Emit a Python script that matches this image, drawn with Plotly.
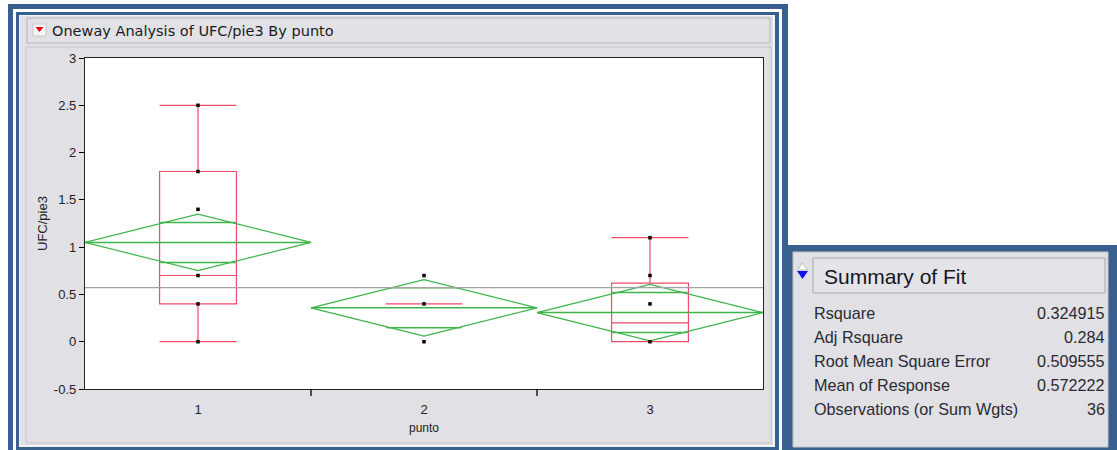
import math
import plotly.graph_objects as go

# ---------------- data ----------------
groups = [1, 2, 3]
group_labels = ["1", "2", "3"]
group_means = [1.05, 0.358, 0.308]
ci_half_width = [0.299, 0.299, 0.299]
grand_mean = 0.572222

box_min = [0.0, 0.4, 0.0]
box_q1 = [0.4, 0.4, 0.0]
box_median = [0.7, 0.4, 0.2]
box_q3 = [1.8, 0.4, 0.62]
box_max = [2.5, 0.4, 1.1]

points_g1 = [2.5, 1.8, 1.4, 0.7, 0.4, 0.0]
points_g2 = [0.7, 0.4, 0.0]
points_g3 = [1.1, 0.7, 0.4, 0.0]

y_ticks = [-0.5, 0, 0.5, 1, 1.5, 2, 2.5, 3]
y_tick_text = ["-0.5", "0", "0.5", "1", "1.5", "2", "2.5", "3"]

fit_labels = ["Rsquare", "Adj Rsquare", "Root Mean Square Error",
              "Mean of Response", "Observations (or Sum Wgts)"]
fit_values = ["0.324915", "0.284", "0.509555", "0.572222", "36"]

title_text = "Oneway Analysis of UFC/pie3 By punto"
summary_title = "Summary of Fit"
y_title = "UFC/pie3"
x_title = "punto"

# ---------------- layout helpers ----------------
W, H = 1117, 450


def px(x):
    return x / W


def py(y):
    return 1 - y / H


BLUE = "#38608F"
GRAY = "#E0E0E5"
GREEN = "#3DB54A"
RED = "#EE4B6A"

PL, PR, PT, PB = 85, 763, 58, 389

fig = go.Figure()

# mean diamonds with overlap marks
for g, m, h in zip(groups, group_means, ci_half_width):
    fig.add_trace(go.Scatter(
        x=[g - 0.5, g, g + 0.5, g, g - 0.5],
        y=[m, m + h, m, m - h, m],
        mode="lines", line=dict(color=GREEN, width=1.2),
        hoverinfo="skip", showlegend=False))
    fig.add_trace(go.Scatter(
        x=[g - 0.5, g + 0.5], y=[m, m], mode="lines",
        line=dict(color=GREEN, width=1.5), hoverinfo="skip", showlegend=False))
    d = h / math.sqrt(2)
    half = 0.5 * (1 - d / h) + 0.02
    for yy in (m + d, m - d):
        fig.add_trace(go.Scatter(
            x=[g - half, g + half], y=[yy, yy], mode="lines",
            line=dict(color=GREEN, width=1.5), hoverinfo="skip", showlegend=False))

# grand mean
fig.add_trace(go.Scatter(x=[0.5, 3.5], y=[grand_mean, grand_mean], mode="lines",
                         line=dict(color="#A3A3A3", width=1.3),
                         hoverinfo="skip", showlegend=False))

# outlier boxes
for g, lo, q1, med, q3, hi in zip(groups, box_min, box_q1, box_median, box_q3, box_max):
    fig.add_trace(go.Box(
        x=[g], q1=[q1], median=[med], q3=[q3], lowerfence=[lo], upperfence=[hi],
        width=0.34, whiskerwidth=1, fillcolor="rgba(0,0,0,0)",
        line=dict(color=RED, width=1.2), boxpoints=False,
        hoverinfo="skip", showlegend=False))

# data points
for g, pts in zip(groups, [points_g1, points_g2, points_g3]):
    fig.add_trace(go.Scatter(
        x=[g] * len(pts), y=pts, mode="markers",
        marker=dict(color="black", size=3.5, symbol="square"),
        hoverinfo="skip", showlegend=False))

shapes = []
# left panel frame
shapes.append(dict(type="rect", xref="paper", yref="paper", x0=px(8), x1=px(788), y0=py(450), y1=py(4),
                   fillcolor=BLUE, line=dict(width=0), layer="below"))
shapes.append(dict(type="rect", xref="paper", yref="paper", x0=px(13), x1=px(782), y0=py(450), y1=py(9),
                   fillcolor="white", line=dict(width=0), layer="below"))
shapes.append(dict(type="rect", xref="paper", yref="paper", x0=px(16), x1=px(779), y0=py(450), y1=py(12),
                   fillcolor=BLUE, line=dict(width=0), layer="below"))
shapes.append(dict(type="rect", xref="paper", yref="paper", x0=px(19), x1=px(775), y0=py(447), y1=py(15),
                   fillcolor="#F4F4F6", line=dict(width=0), layer="below"))
shapes.append(dict(type="rect", xref="paper", yref="paper", x0=px(20), x1=px(773), y0=py(445), y1=py(16),
                   fillcolor=GRAY, line=dict(width=0), layer="below"))
shapes.append(dict(type="rect", xref="paper", yref="paper", x0=px(26), x1=px(771), y0=py(443), y1=py(47),
                   fillcolor=GRAY, line=dict(color="#C4C4C8", width=1), layer="below"))
# title bar
shapes.append(dict(type="rect", xref="paper", yref="paper", x0=px(27), x1=px(770), y0=py(43), y1=py(18),
                   fillcolor="#E2E2E6", line=dict(color="#B5B5B9", width=1), layer="below"))
# red triangle button
shapes.append(dict(type="rect", xref="paper", yref="paper", x0=px(33), x1=px(46), y0=py(36), y1=py(24),
                   fillcolor="#F6F6F6", line=dict(color="#C8C8C8", width=1), layer="below"))
shapes.append(dict(type="path", xref="paper", yref="paper",
                   path="M {a},{b} L {c},{b} L {d},{e} Z".format(
                       a=px(35.5), b=py(27), c=px(43.5), d=px(39.5), e=py(32)),
                   fillcolor="#E8001C", line=dict(width=0), layer="below"))
# plot area background
shapes.append(dict(type="rect", xref="paper", yref="paper", x0=px(PL), x1=px(PR), y0=py(PB), y1=py(PT),
                   fillcolor="white", line=dict(width=0), layer="below"))
# right panel
shapes.append(dict(type="rect", xref="paper", yref="paper", x0=px(782), x1=px(1117), y0=py(450), y1=py(245),
                   fillcolor=BLUE, line=dict(width=0), layer="below"))
shapes.append(dict(type="rect", xref="paper", yref="paper", x0=px(793), x1=px(1108), y0=py(447), y1=py(252),
                   fillcolor=GRAY, line=dict(color="#C4C4C8", width=1), layer="below"))
shapes.append(dict(type="rect", xref="paper", yref="paper", x0=px(813), x1=px(1105), y0=py(293), y1=py(258),
                   fillcolor="#E4E4E8", line=dict(color="#A8A8AC", width=1), layer="below"))
# blue disclosure icon
shapes.append(dict(type="path", xref="paper", yref="paper",
                   path="M {a},{b} L {c},{b} L {d},{e} Z".format(
                       a=px(797), b=py(271), c=px(808), d=px(802.5), e=py(279)),
                   fillcolor="#1010E8", line=dict(width=0), layer="below"))
shapes.append(dict(type="path", xref="paper", yref="paper",
                   path="M {a},{b} L {c},{b} L {d},{e} Z".format(
                       a=px(797.5), b=py(270), c=px(807.5), d=px(802.5), e=py(263)),
                   fillcolor="white", line=dict(color="#B0B0B0", width=0.8), layer="below"))
# boundary ticks on x axis (between categories)
for g in groups[:-1]:
    shapes.append(dict(type="line", xref="x", yref="paper", x0=g + 0.5, x1=g + 0.5,
                       y0=py(PB), y1=py(PB + 7), line=dict(color="black", width=1.3)))

annotations = []
annotations.append(dict(text=title_text, xref="paper", yref="paper", x=px(50), y=py(31),
                        xanchor="left", yanchor="middle", showarrow=False,
                        font=dict(family="DejaVu Sans", size=14.5, color="#1A1A22")))
annotations.append(dict(text=y_title, xref="paper", yref="paper", x=px(42), y=py(224),
                        textangle=-90, xanchor="center", yanchor="middle", showarrow=False,
                        font=dict(family="Liberation Sans", size=13, color="#222")))
annotations.append(dict(text=x_title, xref="paper", yref="paper", x=px((PL + PR) / 2), y=py(428),
                        xanchor="center", yanchor="middle", showarrow=False,
                        font=dict(family="Liberation Sans", size=12, color="#222")))
annotations.append(dict(text=summary_title, xref="paper", yref="paper", x=px(822), y=py(276),
                        xanchor="left", yanchor="middle", showarrow=False,
                        font=dict(family="Liberation Sans", size=21, color="#15151F")))
row_y = [313, 337, 361, 385, 409]
for lab, val, yy in zip(fit_labels, fit_values, row_y):
    annotations.append(dict(text=lab, xref="paper", yref="paper", x=px(812), y=py(yy),
                            xanchor="left", yanchor="middle", showarrow=False,
                            font=dict(family="Liberation Sans", size=16.2, color="#2A2A33")))
    annotations.append(dict(text=val, xref="paper", yref="paper", x=px(1107), y=py(yy),
                            xanchor="right", yanchor="middle", showarrow=False,
                            font=dict(family="Liberation Sans", size=16.2, color="#2A2A33")))

fig.update_layout(
    width=W, height=H, autosize=False,
    margin=dict(l=0, r=0, t=0, b=0, pad=0),
    paper_bgcolor="white", plot_bgcolor="white",
    shapes=shapes, annotations=annotations, showlegend=False,
    xaxis=dict(domain=[px(PL), px(PR)], range=[0.5, 3.5],
               tickvals=groups, ticktext=group_labels,
               ticks="outside", ticklen=8, tickcolor="rgba(0,0,0,0)",
               tickfont=dict(family="Liberation Sans", size=13, color="#222"),
               showgrid=False, zeroline=False, showline=True, linecolor="#222",
               linewidth=1.3, mirror=True, fixedrange=True, automargin=False),
    yaxis=dict(domain=[py(PB), py(PT)], range=[-0.5, 3],
               tickvals=y_ticks, ticktext=y_tick_text,
               ticks="outside", ticklen=5, tickcolor="black",
               tickfont=dict(family="Liberation Sans", size=13, color="#222"),
               showgrid=False, zeroline=False, showline=True, linecolor="#222",
               linewidth=1.3, mirror=True, fixedrange=True, automargin=False),
)

post = ("document.documentElement.style.margin='0';"
        "document.body.style.margin='0';document.body.style.padding='0';"
        "document.body.style.overflow='hidden';"
        "var d=document.getElementById('{plot_id}');"
        "d.style.position='absolute';d.style.left='0px';d.style.top='0px';")

fig.write_html("out.html", post_script=post, config={"displayModeBar": False})
